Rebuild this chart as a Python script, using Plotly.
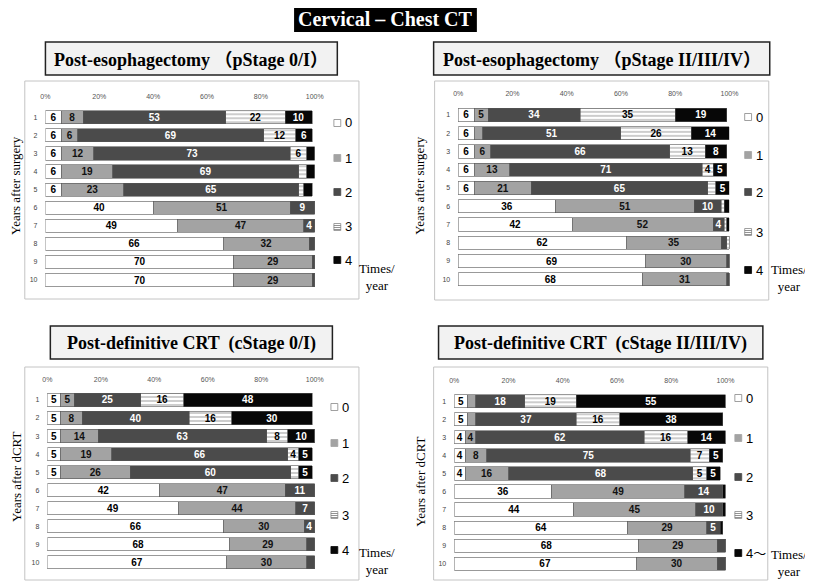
import plotly.graph_objects as go

W, H = 813, 581
# the page body keeps its default 8px margin, so the picture is laid out 8px up/left
OX, OY = 8, 8

years = list(range(1, 11))
categories = ["0", "1", "2", "3", "4"]

# Post-esophagectomy, pStage 0/I  (percent of patients, by number of CT scans per year)
esop_early_0 = [6, 6, 6, 6, 6, 40, 49, 66, 70, 70]
esop_early_1 = [8, 6, 12, 19, 23, 51, 47, 32, 29, 29]
esop_early_2 = [53, 69, 73, 69, 65, 9, 4, 2, 1, 1]
esop_early_3 = [22, 12, 6, 3, 2, 0, 0, 0, 0, 0]
esop_early_4 = [10, 6, 3, 3, 3, 0, 0, 0, 0, 0]

# Post-esophagectomy, pStage II/III/IV
esop_adv_0 = [6, 6, 6, 6, 6, 36, 42, 62, 69, 68]
esop_adv_1 = [5, 3, 6, 13, 21, 51, 52, 35, 30, 31]
esop_adv_2 = [34, 51, 66, 71, 65, 10, 4, 2, 1, 1]
esop_adv_3 = [35, 26, 13, 4, 3, 1, 1, 1, 0, 0]
esop_adv_4 = [19, 14, 8, 5, 5, 2, 1, 0, 0, 0]

# Post-definitive CRT, cStage 0/I
crt_early_0 = [5, 5, 5, 5, 5, 42, 49, 66, 68, 67]
crt_early_1 = [5, 8, 14, 19, 26, 47, 44, 30, 29, 30]
crt_early_2 = [25, 40, 63, 66, 60, 11, 7, 4, 3, 3]
crt_early_3 = [16, 16, 8, 4, 3, 0, 0, 0, 0, 0]
crt_early_4 = [48, 30, 10, 5, 5, 0, 0, 0, 0, 0]

# Post-definitive CRT, cStage II/III/IV
crt_adv_0 = [5, 5, 4, 4, 4, 36, 44, 64, 68, 67]
crt_adv_1 = [3, 3, 4, 8, 16, 49, 45, 29, 29, 30]
crt_adv_2 = [18, 37, 62, 75, 68, 14, 10, 5, 3, 3]
crt_adv_3 = [19, 16, 16, 7, 5, 0, 0, 0, 0, 0]
crt_adv_4 = [55, 38, 14, 5, 5, 1, 1, 1, 0, 0]

xtick_vals = [0, 20, 40, 60, 80, 100]
xtick_text = ["0%", "20%", "40%", "60%", "80%", "100%"]

fills = ["#ffffff", "#a3a3a3", "#4b4b4b", "#ffffff", "#070707"]
label_colors = ["#000000", "#111111", "#ffffff", "#000000", "#ffffff"]


def px(x):
    return (x - OX) / W


def py(y):
    return 1 - (y - OY) / H


panels = [
    dict(series=[esop_early_0, esop_early_1, esop_early_2, esop_early_3, esop_early_4],
         title="Post-esophagectomy （pStage 0/I）", ytitle="Years after surgery",
         bars=(41, 315), rows=(117.3, 280), frame=(20, 81, 360, 299),
         tbox=(41, 42, 338, 75), ytx=(11, 185), leg=(338, [123, 158, 192, 227, 260]),
         times=(378, 277), last="4"),
    dict(series=[esop_adv_0, esop_adv_1, esop_adv_2, esop_adv_3, esop_adv_4],
         title="Post-esophagectomy （pStage II/III/IV）", ytitle="Years after surgery",
         bars=(461, 737), rows=(115, 279.3), frame=(437, 81, 777, 300),
         tbox=(436, 42, 778, 75), ytx=(422, 185), leg=(756, [117, 155, 192, 232, 270]),
         times=(798, 278), last="4"),
    dict(series=[crt_early_0, crt_early_1, crt_early_2, crt_early_3, crt_early_4],
         title="Post-definitive CRT  (cStage 0/I)", ytitle="Years after dCRT",
         bars=(43, 315), rows=(400, 562.3), frame=(20, 367, 360, 580),
         tbox=(46, 326, 333, 359), ytx=(11, 477), leg=(335, [407, 443, 478, 515, 550]),
         times=(378, 561), last="4"),
    dict(series=[crt_adv_0, crt_adv_1, crt_adv_2, crt_adv_3, crt_adv_4],
         title="Post-definitive CRT  (cStage II/III/IV)", ytitle="Years after dCRT",
         bars=(457, 733), rows=(401.3, 563.7), frame=(436, 367, 776, 580),
         tbox=(441, 326, 771, 359), ytx=(422, 482), leg=(746, [398, 438, 477, 515, 553]),
         times=(798, 563), last="4～"),
]

fig = go.Figure()
shapes = []
annotations = []


def note(text, x, y, size, family="Liberation Serif", color="#000000", **kw):
    annotations.append(dict(text=text, x=px(x), y=py(y), xref="paper", yref="paper",
                            xanchor=kw.pop("xanchor", "center"), yanchor="middle",
                            showarrow=False, font=dict(family=family, size=size, color=color),
                            **kw))


# main title
shapes.append(dict(type="rect", xref="paper", yref="paper", x0=px(294), x1=px(480),
                   y0=py(32), y1=py(1), fillcolor="#000000", line=dict(width=0), layer="below"))
note("<b>Cervical – Chest CT</b>", 387, 19, 20, color="#ffffff")

for i, p in enumerate(panels):
    n = "" if i == 0 else str(i + 1)
    sp = (p["rows"][1] - p["rows"][0]) / 9
    ytop = p["rows"][0] - sp / 2
    ybot = p["rows"][1] + sp / 2

    for k, vals in enumerate(p["series"]):
        marker = dict(color=fills[k], line=dict(color="#555555", width=0.6))
        if k == 3:
            marker["pattern"] = dict(shape="-", fgcolor="#6e6e6e", bgcolor="#ffffff",
                                     size=4, solidity=0.35)
        fig.add_trace(go.Bar(
            y=years, x=vals, orientation="h", name=categories[k],
            xaxis="x" + n, yaxis="y" + n, marker=marker,
            text=[str(v) if v >= 4 else "" for v in vals],
            textposition="inside", insidetextanchor="middle", textangle=0,
            constraintext="none",
            textfont=dict(family="Liberation Sans", size=10, color=label_colors[k], weight="bold"),
            showlegend=False, hoverinfo="skip",
        ))

    fig.layout["xaxis" + n] = dict(
        domain=[px(p["bars"][0]), px(p["bars"][1])], anchor="y" + n, side="top",
        range=[0, 100], tickvals=xtick_vals, ticktext=xtick_text, showgrid=False,
        zeroline=False, showline=False, ticks="", ticklabelstandoff=7,
        tickfont=dict(family="Liberation Sans", size=7, color="#555555"),
    )
    fig.layout["yaxis" + n] = dict(
        domain=[py(ybot), py(ytop)], anchor="x" + n, range=[10.5, 0.5],
        tickvals=years, showgrid=False, zeroline=False, showline=False, ticks="",
        ticklabelstandoff=7, tickfont=dict(family="Liberation Sans", size=7, color="#444444"),
    )

    # chart frame
    fx0, fy0, fx1, fy1 = p["frame"]
    shapes.append(dict(type="rect", xref="paper", yref="paper", x0=px(fx0), x1=px(fx1),
                       y0=py(fy1), y1=py(fy0), line=dict(color="#c4c4c4", width=1), layer="below"))

    # panel title box
    bx0, by0, bx1, by1 = p["tbox"]
    shapes.append(dict(type="rect", xref="paper", yref="paper", x0=px(bx0), x1=px(bx1),
                       y0=py(by1), y1=py(by0), fillcolor="#f2f2f2",
                       line=dict(color="#222222", width=1.5), layer="below"))
    note("<b>" + p["title"] + "</b>", (bx0 + bx1) / 2, (by0 + by1) / 2 + 1, 18,
         family="Liberation Serif, Noto Sans CJK JP")

    # y axis title
    note(p["ytitle"], p["ytx"][0], p["ytx"][1], 13, textangle=-90)

    # legend keys
    lx, lys = p["leg"]
    s = 3.5
    for k, ly in enumerate(lys):
        line_col = "#888888" if k in (0, 3) else fills[k]
        shapes.append(dict(type="rect", xref="paper", yref="paper", x0=px(lx - s), x1=px(lx + s),
                           y0=py(ly + s), y1=py(ly - s), fillcolor=fills[k],
                           line=dict(color=line_col, width=0.8)))
        if k == 3:
            for dy in (-1.5, 0.5, 2.5):
                shapes.append(dict(type="line", xref="paper", yref="paper", x0=px(lx - s),
                                   x1=px(lx + s), y0=py(ly + dy), y1=py(ly + dy),
                                   line=dict(color="#777777", width=0.8)))
        lab = p["last"] if k == 4 else categories[k]
        note(lab, lx + s + 2, ly, 13, family="Liberation Sans, Noto Sans CJK JP",
             xanchor="left")

    tx, ty = p["times"]
    note("Times/<br>year", tx, ty, 13, align="center")

fig.update_layout(
    width=W, height=H, margin=dict(l=0, r=0, t=0, b=0),
    paper_bgcolor="#ffffff", plot_bgcolor="rgba(0,0,0,0)",
    barmode="stack", bargap=0.27, showlegend=False,
    shapes=shapes, annotations=annotations,
)

fig.write_html("out.html")
